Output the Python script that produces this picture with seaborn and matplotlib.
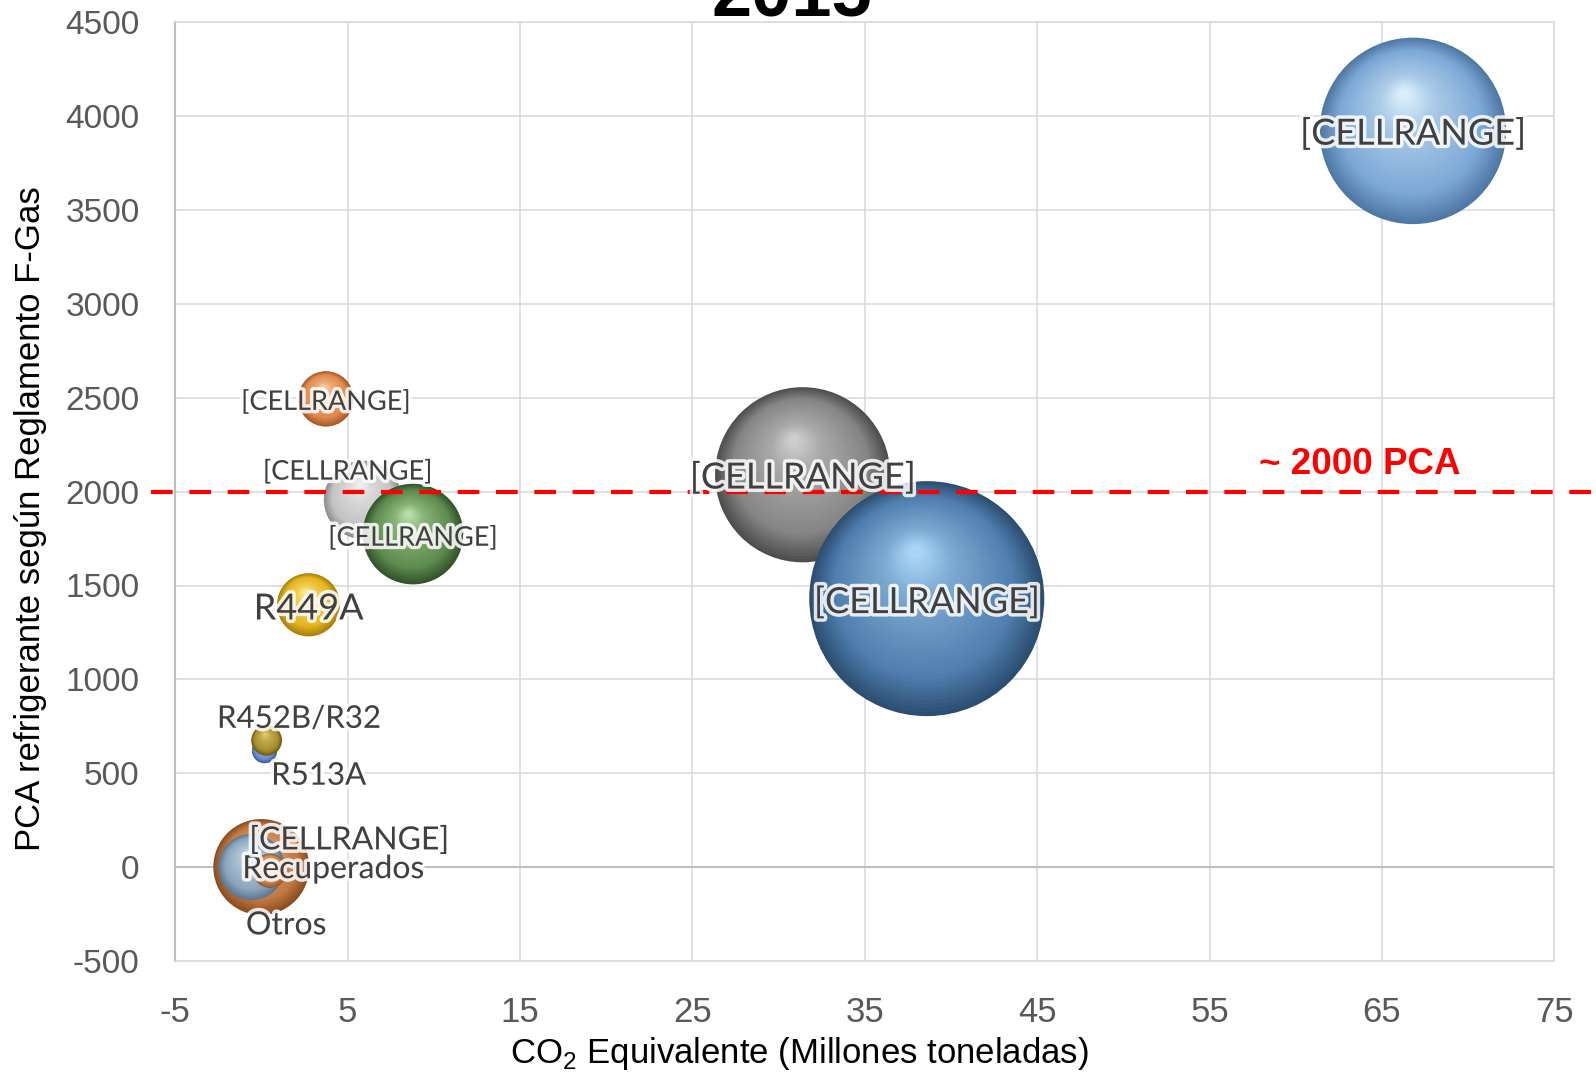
import numpy as np
import pandas as pd
import matplotlib
matplotlib.use("Agg")
import matplotlib.pyplot as plt
import matplotlib.patheffects as pe
from matplotlib import font_manager
from matplotlib.colors import to_rgb, to_hex
import seaborn as sns

# ---- data -------------------------------------------------------------
# CO2 equivalent (million tonnes), PCA (GWP) and refrigerant mass (tonnes)
co2_mt = [66.8, 31.4, 38.6, 3.75, 5.9, 8.8, 2.74, 0.19, 0.31, 0.0, -0.57, 0.5]
pca = [3922, 2090, 1430, 2494, 1956, 1774, 1397, 620, 675, 0, 0, -20]
toneladas = [17000, 15000, 27000, 1500, 3000, 4950, 1950, 310, 460, 4500, 2150, 570]
etiquetas = ["[CELLRANGE]", "[CELLRANGE]", "[CELLRANGE]", "[CELLRANGE]",
             "[CELLRANGE]", "[CELLRANGE]", "R449A", "R513A", "R452B/R32",
             "Otros", "Recuperados", "[CELLRANGE]"]

x_ticks = [-5, 5, 15, 25, 35, 45, 55, 65, 75]
y_ticks = list(range(-500, 4501, 500))
umbral_pca = 2000

# ---- style ------------------------------------------------------------
# (base, edge, highlight) colours of each sphere
colores = [
    ("#7CA8D6", "#4F78A4", "#E4F6FF"),
    ("#858585", "#4E4E4E", "#D6D6D6"),
    ("#4F7DAD", "#2C4E72", "#B4E0FF"),
    ("#E08A4E", "#A85A28", "#FFD7B0"),
    ("#C4C4C4", "#8E8E8E", "#F4F4F4"),
    ("#5D8A4E", "#34532B", "#C2E8B0"),
    ("#E6B51E", "#A87F0C", "#FFF1A0"),
    ("#6A8DD2", "#3F5E9E", "#C8DCFF"),
    ("#A78E2E", "#6E5C14", "#EBD57A"),
    ("#C47A42", "#8A4E22", "#F3C49A"),
    ("#8CA6BE", "#5D7890", "#DDEBF6"),
    ("#D08A52", "#94582A", "#FAD0AA"),
]

# label placement: (dx, dy) offset in points, fontsize
etiqueta_pos = [
    ((0, -2), 26), ((0, -2), 26), ((0, -2.5), 26), ((0, -2.5), 19.5),
    ((-11, 20), 19.5), ((0, -3), 19.5), ((0, -3), 26), ((39, -18), 22.5),
    ((23.5, 15.5), 22.5), ((18, -42), 23), ((59, -1.5), 23), ((57, 22), 23),
]

sns.set_theme(style="white")
names = {f.name for f in font_manager.fontManager.ttflist}
label_font = "Lato" if "Lato" in names else "DejaVu Sans"
axis_font = "Liberation Sans" if "Liberation Sans" in names else "DejaVu Sans"
narrow_font = "Liberation Sans Narrow" if "Liberation Sans Narrow" in names else axis_font
plt.rcParams["font.family"] = [axis_font, "DejaVu Sans"]
plt.rcParams["mathtext.fontset"] = "custom"
plt.rcParams["mathtext.rm"] = axis_font
plt.rcParams["axes.unicode_minus"] = False

W, H, DPI = 1596, 1073, 100
fig = plt.figure(figsize=(W / DPI, H / DPI), dpi=DPI)
ax = fig.add_axes([175.1 / W, 1 - 960.9 / H, 1379.2 / W, 938.5 / H])
ax.set_xlim(-5, 75)
ax.set_ylim(-500, 4500)

# pixel scale of the data axes (used to place sphere shading)
px_per_x = 1379.2 / 80.0
px_per_y = 938.5 / 5000.0
pt2px = DPI / 72.0

t_max = max(toneladas)
r_max_px = 117.5
s_max = (2 * r_max_px / pt2px) ** 2
size_norm = (0, t_max)


def mezcla(c1, c2, t):
    a, b = np.array(to_rgb(c1)), np.array(to_rgb(c2))
    return to_hex(a + (b - a) * t)


def gradiente(base, borde, brillo, t):
    if t < 0.22:
        return mezcla(borde, base, t / 0.22)
    if t < 0.7:
        return mezcla(base, mezcla(base, brillo, 0.45), (t - 0.22) / 0.48)
    return mezcla(mezcla(base, brillo, 0.45), brillo, (t - 0.7) / 0.3)


n_capas = 40
for i in range(len(co2_mt)):
    base, borde, brillo = colores[i]
    r_px = r_max_px * np.sqrt(toneladas[i] / t_max)
    f = np.linspace(1.0, 0.06, n_capas)
    t = 1 - f
    # shading layers shrink toward a highlight above the centre
    hx = -0.10 * r_px * t
    hy = 0.42 * r_px * t
    capas = pd.DataFrame({
        "x": co2_mt[i] + hx / px_per_x,
        "y": pca[i] + hy / px_per_y,
        "t": toneladas[i] * f ** 2,
        "capa": np.arange(n_capas),
    })
    paleta = {k: gradiente(base, borde, brillo, tk) for k, tk in zip(capas["capa"], t)}
    sns.scatterplot(data=capas, x="x", y="y", size="t", hue="capa",
                    palette=paleta, sizes=(0, s_max), size_norm=size_norm,
                    linewidth=0, legend=False, ax=ax, zorder=3)

# reference line at 2000 PCA
ax.axhline(umbral_pca, xmin=-0.0178, xmax=1.03, color="#FF0000", lw=3.0,
           dashes=(5.2, 4.0), clip_on=False, zorder=4)
ax.annotate("~ 2000 PCA", xy=(63.7, umbral_pca), xytext=(0, 12.5),
            textcoords="offset points", ha="center", va="baseline",
            color="#FF0000", fontsize=26.5, fontweight="bold",
            family=[axis_font], zorder=6)

# data labels
halo = [pe.withStroke(linewidth=5, foreground="white", alpha=0.85)]
for i, txt in enumerate(etiquetas):
    (dx, dy), fs = etiqueta_pos[i]
    ax.annotate(txt, xy=(co2_mt[i], pca[i]), xytext=(dx, dy),
                textcoords="offset points", ha="center", va="center",
                fontsize=fs, color="#404040", family=[label_font],
                path_effects=halo, zorder=7)

# axes, grid and ticks
ax.set_xticks(x_ticks)
ax.set_yticks(y_ticks)
ax.grid(True, color="#D9D9D9", lw=1.1)
ax.set_axisbelow(True)
for s in ["top", "right", "bottom"]:
    ax.spines[s].set_color("#D9D9D9")
    ax.spines[s].set_linewidth(1.1)
ax.spines["left"].set_color("#BFBFBF")
ax.spines["left"].set_linewidth(1.5)
ax.axhline(0, color="#BFBFBF", lw=1.5, zorder=1)
ax.tick_params(axis="both", length=0)
ax.tick_params(axis="y", pad=25.5, labelsize=24, labelcolor="#595959")
ax.tick_params(axis="x", pad=25, labelsize=25, labelcolor="#595959")
for lab in ax.get_xticklabels():
    lab.set_family([narrow_font])
for lab in ax.get_yticklabels():
    lab.set_family([axis_font])

ax.set_xlabel(r"CO$_\mathrm{2}$ Equivalente (Millones toneladas)",
              fontsize=25, color="#000000")
ax.xaxis.set_label_coords(0.453, -0.079)
ax.xaxis.label.set_va("top")
ax.set_ylabel("PCA refrigerante según Reglamento F-Gas", fontsize=25,
              color="#000000")
ax.yaxis.set_label_coords(-0.1048, 0.471)
ax.yaxis.label.set_va("center")

# year heading, partly above the top edge
fig.text(0.496, 1 - 15.5 / H, "2015", ha="center", va="baseline",
         fontsize=52, fontweight="bold", color="#000000", family=[axis_font])

fig.savefig("out.png", dpi=DPI)
